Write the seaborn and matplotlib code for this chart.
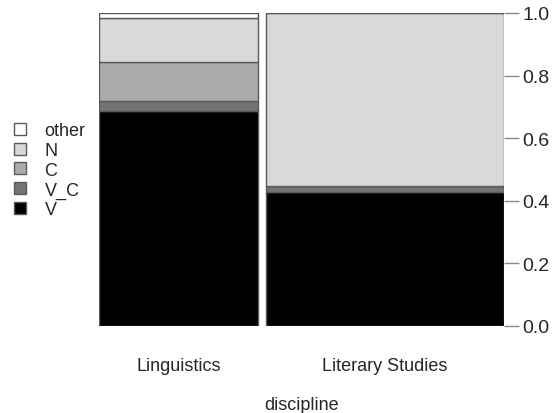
import matplotlib
matplotlib.use("Agg")
import matplotlib.pyplot as plt
from matplotlib.patches import Patch
import numpy as np
import pandas as pd
import seaborn as sns

# Discipline shares (spine widths) and category proportions per discipline
disciplines = ["Linguistics", "Literary Studies"]
discipline_share = [0.40, 0.60]
categories = ["V", "V_C", "C", "N", "other"]
linguistics = [0.687, 0.032, 0.124, 0.141, 0.016]
literary = [0.429, 0.017, 0.000, 0.554, 0.000]
y_ticks = [0.0, 0.2, 0.4, 0.6, 0.8, 1.0]

palette = {"V": "#000000", "V_C": "#737373", "C": "#ababab",
           "N": "#d9d9d9", "other": "#ffffff"}

df = pd.DataFrame({"V": [linguistics[0], literary[0]],
                   "V_C": [linguistics[1], literary[1]],
                   "C": [linguistics[2], literary[2]],
                   "N": [linguistics[3], literary[3]],
                   "other": [linguistics[4], literary[4]]},
                  index=disciplines)

sns.set_style("white")
plt.rcParams["font.family"] = ["Liberation Sans", "DejaVu Sans"]

fig = plt.figure(figsize=(5.53, 4.14), dpi=100)
ax = fig.add_axes([99 / 553, 1 - 327 / 414, 405 / 553, 313 / 414])

gap = 0.02
widths = np.array(discipline_share)
lefts = np.concatenate([[0], np.cumsum(widths[:-1] + gap)])
edge = "#5a5a5a"

for i, disc in enumerate(disciplines):
    bottom = 0.0
    for cat in categories:
        h = df.loc[disc, cat]
        ax.bar(lefts[i], h, width=widths[i], bottom=bottom, align="edge",
               color=palette[cat], edgecolor=edge, linewidth=1.0)
        bottom += h

ax.set_xlim(0, lefts[-1] + widths[-1])
ax.set_ylim(0, 1)
for s in ax.spines.values():
    s.set_visible(False)

ax.yaxis.tick_right()
ax.set_yticks(y_ticks)
ax.set_yticklabels([f"{t:.1f}" for t in y_ticks])
ax.tick_params(axis="y", right=True, length=11, width=1.0, color="#8c8c8c",
               labelsize=14, pad=2)

centers = lefts + widths / 2
ax.set_xticks(centers)
ax.set_xticklabels(disciplines)
ax.tick_params(axis="x", bottom=False, length=0, labelsize=13, pad=22)
ax.set_xlabel("discipline", fontsize=13, labelpad=16)

handles = [Patch(facecolor=palette[c], edgecolor=edge, linewidth=1.0, label=c)
           for c in ["other", "N", "C", "V_C", "V"]]
fig.legend(handles=handles, loc="upper left", bbox_to_anchor=(0.012, 1 - 116 / 414),
           frameon=False, fontsize=13, handlelength=0.65, handleheight=0.65,
           handletextpad=1.05, labelspacing=0.15, borderaxespad=0)

fig.savefig("out.png", dpi=100)
